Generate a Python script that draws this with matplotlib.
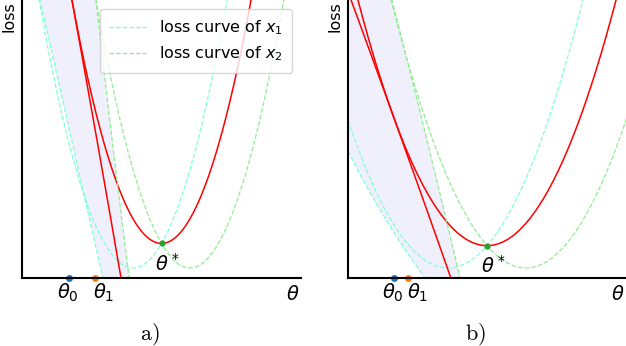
import numpy as np
import matplotlib
matplotlib.use('Agg')
import matplotlib.pyplot as plt

# ---------------- data ----------------
panel_labels = ['a)', 'b)']
theta_star = [5.0, 5.0]            # common minimiser of the mean loss
vertex_offset = [1.02, 1.40]       # distance of x1 / x2 minima from theta*
vertex_loss = [0.36, 0.36]         # minimum loss value of x1 / x2 curves
curvature = [0.85, 0.41]           # curvature of the loss parabolas
theta0 = [1.69, 1.65]
theta1 = [2.62, 2.16]
tick_positions = [[1.65, 2.94], [1.62, 2.50]]
tick_labels = [r'$\theta_0$', r'$\theta_1$']

# second set of curves: theta read at a few loss levels
cyan2_loss = [[10.0, 5.0, 0.0], [4.5, 1.98, 0.0]]
cyan2_theta = [[0.65, 1.77, 2.90], [0.04, 1.44, 2.77]]
green2_loss = [[10.0, 4.96, 0.0], [10.0, 4.96, 0.0]]
green2_theta = [[2.65, 3.23, 3.84], [1.58, 2.84, 4.03]]
red2_loss = [[10.0, 3.35, 0.0], [10.0, 4.96, 0.0]]
red2_theta = [[1.79, 2.97, 3.55], [0.11, 1.94, 3.70]]

legend_labels = [r'loss curve of $x_1$', r'loss curve of $x_2$']

# ---------------- styles ----------------
C_X1 = 'aquamarine'
C_X2 = 'lightgreen'
C_MEAN = 'red'
C_BAND = 'lavender'

fig = plt.figure(figsize=(6.26, 3.46), dpi=100)
W, H = 626.0, 346.0
axes_px = [(22, 279), (348, 278)]

for i in range(2):
    left, width = axes_px[i]
    ax = fig.add_axes([left / W, 68 / H, width / W, 278 / H])
    ax.set_xlim(0, 10)
    ax.set_ylim(0, 10)

    th = np.linspace(-2, 12, 800)
    k, d, m, ts = curvature[i], vertex_offset[i], vertex_loss[i], theta_star[i]
    f1 = k * (th - (ts - d)) ** 2 + m
    f2 = k * (th - (ts + d)) ** 2 + m
    fmean = (f1 + f2) / 2

    # second curves: theta as quadratic function of loss
    yy = np.linspace(-1, 12, 400)
    xc = np.polyval(np.polyfit(cyan2_loss[i], cyan2_theta[i], 2), yy)
    xg = np.polyval(np.polyfit(green2_loss[i], green2_theta[i], 2), yy)
    xr = np.polyval(np.polyfit(red2_loss[i], red2_theta[i], 2), yy)

    ax.fill_betweenx(yy, xc, xg, color=C_BAND, alpha=0.6, lw=0, zorder=0.5)

    l1, = ax.plot(th, f1, '--', color=C_X1, lw=0.9, label=legend_labels[0])
    l2, = ax.plot(th, f2, '--', color=C_X2, lw=0.9, label=legend_labels[1])
    ax.plot(th, fmean, '-', color=C_MEAN, lw=1.1)
    ax.plot(xc, yy, '--', color=C_X1, lw=0.9)
    ax.plot(xg, yy, '--', color=C_X2, lw=0.9)
    ax.plot(xr, yy, '-', color=C_MEAN, lw=1.1)

    ystar = k * d ** 2 + m
    ax.plot([ts], [ystar], 'o', color='tab:green', ms=3.5, zorder=3)
    ax.annotate(r'$\theta^*$', (ts, ystar), xytext=(6, -9),
                textcoords='offset pixels', ha='center', va='top', fontsize=14)

    ax.plot([theta0[i]], [0], 'o', color='tab:blue', ms=4, clip_on=False, zorder=2)
    ax.plot([theta1[i]], [0], 'o', color='tab:orange', ms=4, clip_on=False, zorder=2)

    ax.set_xticks(tick_positions[i])
    ax.set_xticklabels(tick_labels, fontsize=14)
    ax.set_yticks([])
    ax.tick_params(axis='x', length=0, pad=3)
    for s in ['top', 'right']:
        ax.spines[s].set_visible(False)
    for s in ['left', 'bottom']:
        ax.spines[s].set_linewidth(1.5)

    ax.text(0.995, -0.025, r'$\theta$', transform=ax.transAxes, ha='right',
            va='top', fontsize=14)
    ax.text(-0.018, 0.997, 'loss', transform=ax.transAxes, ha='right', va='top',
            rotation=90, fontsize=11.5)

    if i == 0:
        ax.legend(handles=[l1, l2], loc='upper right', fontsize=11.5,
                  framealpha=0.8, handlelength=2.3, borderaxespad=0.55,
                  labelspacing=0.45, borderpad=0.6)

fig.text(150 / W, 12 / H, r'$\mathrm{' + panel_labels[0] + '}$',
         math_fontfamily='cm', fontsize=16, ha='center', va='center')
fig.text(475 / W, 12 / H, r'$\mathrm{' + panel_labels[1] + '}$',
         math_fontfamily='cm', fontsize=16, ha='center', va='center')

fig.savefig('out.png', dpi=100)
